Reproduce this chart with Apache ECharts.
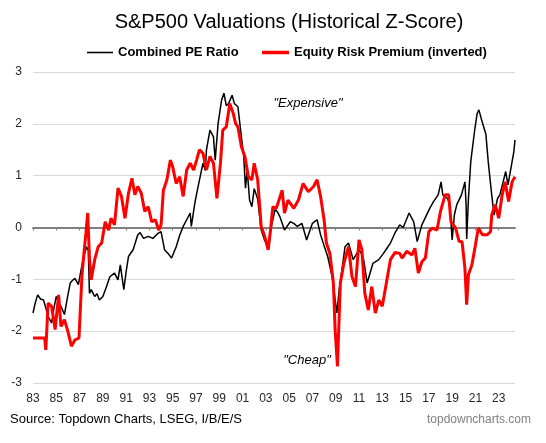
<!DOCTYPE html>
<html><head><meta charset="utf-8">
<script src="https://cdn.jsdelivr.net/npm/echarts@6/dist/echarts.min.js"></script>
<style>html,body{margin:0;padding:0;background:#fff}#c{width:546px;height:443px}</style>
</head><body><div id="c"></div>
<script>
const BASE_YEAR = 1983;
const xTickYears = [1983,1985,1987,1989,1991,1993,1995,1997,1999,2001,2003,2005,2007,2009,2011,2013,2015,2017,2019,2021,2023];
const xTickLabels = ['83','85','87','89','91','93','95','97','99','01','03','05','07','09','11','13','15','17','19','21','23'];
const yTicks = [-3,-2,-1,0,1,2,3];
const seriesNames = ['Combined PE Ratio','Equity Risk Premium (inverted)'];

const peYears = [1983.0,1983.2,1983.4,1983.65,1983.9,1984.1,1984.3,1984.6,1984.8,1985.0,1985.2,1985.4,1985.7,1986.0,1986.2,1986.4,1986.6,1986.9,1987.1,1987.3,1987.6,1987.75,1987.85,1988.0,1988.3,1988.5,1988.7,1989.0,1989.3,1989.6,1990.0,1990.3,1990.5,1990.8,1991.0,1991.2,1991.6,1992.0,1992.2,1992.5,1992.9,1993.3,1993.7,1994.0,1994.3,1994.6,1994.9,1995.3,1995.6,1995.9,1996.2,1996.5,1996.6,1996.9,1997.1,1997.3,1997.6,1997.8,1997.9,1998.2,1998.5,1998.65,1998.9,1999.2,1999.4,1999.6,1999.8,2000.1,2000.3,2000.6,2000.8,2001.1,2001.25,2001.4,2001.6,2001.8,2002.0,2002.3,2002.6,2002.9,2003.2,2003.5,2003.8,2004.0,2004.2,2004.6,2005.1,2005.4,2005.7,2006.1,2006.5,2007.0,2007.4,2007.7,2008.0,2008.3,2008.7,2008.9,2009.1,2009.3,2009.5,2009.8,2010.1,2010.5,2011.0,2011.2,2011.4,2011.7,2012.2,2012.7,2013.1,2013.4,2013.7,2014.1,2014.5,2014.8,2015.3,2015.7,2016.0,2016.4,2016.8,2017.1,2017.4,2017.8,2018.05,2018.2,2018.6,2018.8,2019.0,2019.2,2019.4,2019.8,2020.1,2020.2,2020.25,2020.4,2020.6,2020.95,2021.15,2021.3,2021.5,2021.7,2021.9,2022.1,2022.4,2022.6,2022.9,2023.1,2023.35,2023.6,2023.8,2024.1,2024.3,2024.4];
const peValues = [-1.65,-1.45,-1.30,-1.38,-1.40,-1.55,-1.72,-1.84,-1.55,-1.33,-1.45,-1.52,-1.68,-1.30,-1.07,-1.02,-0.98,-1.10,-0.85,-0.62,-0.37,-0.45,-1.27,-1.20,-1.33,-1.28,-1.40,-1.33,-1.15,-0.95,-0.88,-1.01,-0.72,-1.20,-0.85,-0.56,-0.43,-0.14,-0.10,-0.21,-0.17,-0.21,-0.12,-0.08,-0.43,-0.50,-0.59,-0.37,-0.15,0.02,0.15,0.28,0.02,0.47,0.70,0.92,1.24,1.10,1.50,1.88,1.75,1.30,2.01,2.46,2.59,2.35,2.39,2.55,2.39,2.33,1.94,1.37,0.76,1.11,0.53,0.40,0.75,0.55,-0.05,-0.25,-0.35,0.05,0.35,0.30,0.21,-0.05,0.11,0.08,0.02,0.08,-0.24,0.08,0.15,-0.14,-0.35,-0.55,-0.95,-1.30,-1.65,-1.20,-0.88,-0.37,-0.30,-0.62,-0.43,-0.50,-0.62,-1.07,-0.69,-0.62,-0.50,-0.40,-0.30,-0.10,0.05,0.00,0.28,0.11,-0.27,0.05,0.24,0.38,0.50,0.63,0.88,0.63,0.56,0.45,-0.24,0.25,0.44,0.63,0.88,0.45,-0.22,0.55,1.27,1.90,2.20,2.27,2.10,1.95,1.80,1.27,0.63,0.24,0.56,0.63,0.85,1.08,0.82,1.21,1.46,1.69];

const erpYears = [1983.0,1984.0,1984.1,1984.3,1984.6,1984.9,1985.2,1985.4,1985.7,1986.0,1986.3,1986.6,1986.95,1987.2,1987.4,1987.55,1987.7,1987.85,1988.0,1988.3,1988.6,1988.9,1989.2,1989.5,1989.7,1990.0,1990.3,1990.6,1990.9,1991.2,1991.5,1991.75,1992.0,1992.3,1992.6,1992.9,1993.2,1993.5,1993.8,1994.0,1994.2,1994.5,1994.8,1995.0,1995.3,1995.6,1995.9,1996.2,1996.5,1996.8,1997.05,1997.3,1997.6,1997.9,1998.2,1998.5,1998.8,1999.1,1999.3,1999.6,1999.9,2000.2,2000.4,2000.6,2000.9,2001.2,2001.5,2001.8,2002.0,2002.3,2002.6,2002.9,2003.2,2003.4,2003.6,2003.9,2004.4,2004.6,2004.9,2005.4,2005.8,2006.2,2006.65,2007.1,2007.4,2007.7,2008.0,2008.2,2008.5,2008.8,2008.95,2009.15,2009.4,2009.7,2010.1,2010.4,2010.7,2011.0,2011.25,2011.5,2011.8,2012.1,2012.4,2012.7,2013.0,2013.25,2013.7,2014.1,2014.5,2014.7,2015.1,2015.55,2015.8,2016.1,2016.4,2016.7,2017.0,2017.3,2017.7,2018.0,2018.4,2018.7,2018.9,2019.3,2019.6,2019.85,2020.1,2020.25,2020.4,2020.7,2021.0,2021.25,2021.6,2022.0,2022.3,2022.4,2022.7,2023.0,2023.3,2023.55,2023.85,2024.15,2024.4];
const erpValues = [-2.13,-2.13,-2.36,-1.46,-1.52,-1.97,-1.30,-1.91,-1.78,-2.01,-2.29,-2.17,-2.13,-0.95,-0.43,-0.10,0.28,-0.60,-1.01,-0.62,-0.37,-0.30,0.11,-0.05,0.18,0.05,0.76,0.60,0.18,0.66,0.95,0.63,0.79,0.66,0.31,0.40,0.11,0.15,-0.05,0.05,0.72,0.92,1.30,1.17,0.85,0.98,0.60,1.11,1.24,1.11,1.30,1.50,1.43,1.11,1.37,1.24,0.56,1.24,1.88,1.94,2.39,2.20,2.01,1.94,1.56,1.37,0.98,0.92,1.24,0.92,0.02,-0.17,-0.43,-0.05,0.40,0.37,0.72,0.28,0.53,0.37,0.53,0.85,0.69,0.79,0.92,0.60,0.15,-0.30,-0.50,-1.07,-1.97,-2.68,-1.07,-0.69,-0.37,-0.95,-1.14,-0.24,-0.43,-1.27,-1.59,-1.14,-1.65,-1.40,-1.52,-1.20,-0.62,-0.48,-0.50,-0.59,-0.46,-0.53,-0.40,-0.88,-0.66,-0.59,-0.08,-0.01,-0.05,0.31,0.63,0.63,0.11,-0.01,-0.27,-0.27,-0.79,-1.49,-0.91,-0.72,-0.34,-0.01,-0.14,-0.14,-0.08,0.24,0.44,0.18,0.63,0.88,0.50,0.88,0.98];

const FONT = 'Liberation Sans, Arial, sans-serif';
const tickPos = xTickYears.map(y => y - BASE_YEAR);
const toPts = (xs, vs) => xs.map((y, i) => [y - BASE_YEAR, vs[i]]);
const legendText = {fontFamily: FONT, fontSize: 13, fontWeight: 'bold', color: '#000'};

const chart = echarts.init(document.getElementById('c'), null, {renderer: 'canvas'});
chart.setOption({
  animation: false,
  backgroundColor: '#fff',
  title: [
    {text: 'S&P500 Valuations (Historical Z-Score)', left: 289, top: 12, textAlign: 'center', padding: 0,
     textStyle: {fontFamily: FONT, fontSize: 20, fontWeight: 'normal', color: '#000'}},
    {text: '"Expensive"', left: 308, top: 97, textAlign: 'center', padding: 0,
     textStyle: {fontFamily: FONT, fontSize: 13, fontStyle: 'italic', fontWeight: 'normal', color: '#000'}},
    {text: '"Cheap"', left: 307, top: 354, textAlign: 'center', padding: 0,
     textStyle: {fontFamily: FONT, fontSize: 13, fontStyle: 'italic', fontWeight: 'normal', color: '#000'}},
    {text: 'Source: Topdown Charts, LSEG, I/B/E/S', left: 10, top: 413, padding: 0,
     textStyle: {fontFamily: FONT, fontSize: 13, fontWeight: 'normal', color: '#000'}},
    {text: 'topdowncharts.com', right: 15, top: 414, padding: 0,
     textStyle: {fontFamily: FONT, fontSize: 12, fontWeight: 'normal', color: '#7f7f7f'}}
  ],
  legend: [
    {data: [seriesNames[0]], left: 87, top: 46, padding: 0, icon: 'rect', itemWidth: 26, itemHeight: 1.6,
     itemStyle: {color: '#000'}, textStyle: legendText},
    {data: [seriesNames[1]], left: 262, top: 46, padding: 0, icon: 'rect', itemWidth: 27, itemHeight: 3.5,
     itemStyle: {color: '#ff0000'}, textStyle: legendText}
  ],
  grid: {left: 33, right: 31, top: 72, bottom: 60, containLabel: false},
  xAxis: [
    {type: 'value', min: 0, max: 2024.4 - BASE_YEAR, position: 'bottom',
     axisLine: {show: false, onZero: false}, axisTick: {show: false}, splitLine: {show: false},
     axisLabel: {customValues: tickPos, margin: 10, fontFamily: FONT, fontSize: 12, color: '#262626',
       formatter: v => xTickLabels[tickPos.indexOf(Math.round(v))] || ''}},
    {type: 'value', min: 0, max: 2024.4 - BASE_YEAR, position: 'bottom',
     axisLine: {show: true, onZero: true, lineStyle: {color: '#808080', width: 2}},
     axisTick: {show: true, customValues: tickPos, length: 3, lineStyle: {color: '#808080', width: 1}},
     axisLabel: {show: false}, splitLine: {show: false}}
  ],
  yAxis: {type: 'value', min: yTicks[0], max: yTicks[yTicks.length - 1], interval: 1,
    axisLine: {show: false}, axisTick: {show: false},
    axisLabel: {margin: 11, fontFamily: FONT, fontSize: 12, color: '#262626'},
    splitLine: {lineStyle: {color: '#d9d9d9', width: 1}}},
  series: [
    {name: seriesNames[0], type: 'line', xAxisIndex: 0, data: toPts(peYears, peValues), symbol: 'none',
     lineStyle: {color: '#000', width: 1.5}, itemStyle: {color: '#000'}, z: 3},
    {name: seriesNames[1], type: 'line', xAxisIndex: 0, data: toPts(erpYears, erpValues), symbol: 'none',
     lineStyle: {color: '#ff0000', width: 3}, itemStyle: {color: '#ff0000'}, z: 4}
  ]
});
</script></body></html>
